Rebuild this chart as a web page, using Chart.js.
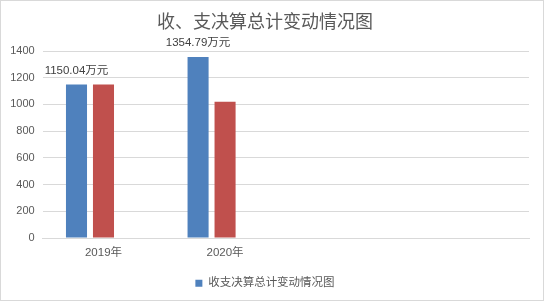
<!DOCTYPE html>
<html lang="zh">
<head>
  <meta charset="UTF-8" />
  <title>收、支决算总计变动情况图</title>
  <style>
    html, body { margin: 0; padding: 0; background: #fff; }
    .grafico-box {
      width: 544px; height: 301px; box-sizing: border-box;
      border: 1px solid #d9d9d9; position: relative;
    }
  </style>
</head>
<body>
  <div class="grafico-box">
    <canvas id="graficoDecisao"></canvas>
  </div>
  <script src="https://cdn.jsdelivr.net/npm/chart.js@4.4.0/dist/chart.umd.min.js"></script>
  <script>
    const categorias = ['2019年', '2020年', '', ''];
    const serieAzul = [1150.04, 1354.79, null, null];
    const serieVermelha = [1150, 1020, null, null];
    const serieVazia = [null, null, null, null];
    const rotulosAzul = ['1150.04万元', '1354.79万元', '', ''];
    const marcasEixoY = [0, 200, 400, 600, 800, 1000, 1200, 1400];

    const fonte = "'Liberation Sans', 'Noto Sans CJK SC', sans-serif";
    const cinza = '#595959';

    // rotulos acima das barras azuis
    const rotulosPlugin = {
      id: 'rotulos',
      afterDatasetsDraw(chart) {
        const ctx = chart.ctx;
        const meta = chart.getDatasetMeta(0);
        ctx.save();
        ctx.font = '11.5px ' + fonte;
        ctx.fillStyle = '#404040';
        ctx.textAlign = 'center';
        ctx.textBaseline = 'bottom';
        meta.data.forEach((bar, i) => {
          if (!rotulosAzul[i]) return;
          ctx.fillText(rotulosAzul[i], bar.x, bar.y - 8);
        });
        ctx.restore();
      }
    };

    new Chart(document.getElementById('graficoDecisao'), {
      type: 'bar',
      data: {
        labels: categorias,
        datasets: [
          { label: '收支决算总计变动情况图', data: serieAzul, backgroundColor: '#4F81BD' },
          { label: '支出', data: serieVermelha, backgroundColor: '#C0504D' },
          { label: '', data: serieVazia, backgroundColor: '#9BBB59' }
        ]
      },
      options: {
        responsive: true,
        maintainAspectRatio: false,
        animation: false,
        categoryPercentage: 0.666,
        barPercentage: 0.78,
        layout: { padding: { left: 0, right: 14, top: 0, bottom: 1 } },
        scales: {
          x: {
            grid: { display: false },
            border: { display: true, color: '#d9d9d9' },
            ticks: { color: cinza, font: { family: fonte, size: 11.5 }, padding: 0, maxRotation: 0 },
            afterFit(scale) { scale.height = 33.4; }
          },
          y: {
            min: 0,
            max: 1400,
            afterBuildTicks(scale) { scale.ticks = marcasEixoY.map(v => ({ value: v })); },
            grid: { color: '#d9d9d9', drawTicks: false },
            border: { display: false },
            ticks: { color: cinza, font: { family: fonte, size: 11 }, padding: 8, callback: v => String(v) },
            afterFit(scale) { scale.width = 41.7; }
          }
        },
        plugins: {
          title: {
            display: true,
            text: '收、支决算总计变动情况图',
            color: cinza,
            font: { family: "'Noto Sans CJK SC', sans-serif", size: 18, weight: 'normal' },
            padding: { top: 9, bottom: 19.4 }
          },
          legend: {
            position: 'bottom',
            labels: {
              color: cinza,
              font: { family: fonte, size: 11.5 },
              boxWidth: 7,
              boxHeight: 7,
              padding: 6,
              filter: item => item.datasetIndex === 0
            }
          },
          tooltip: { enabled: false }
        }
      },
      plugins: [rotulosPlugin]
    });
  </script>
</body>
</html>
